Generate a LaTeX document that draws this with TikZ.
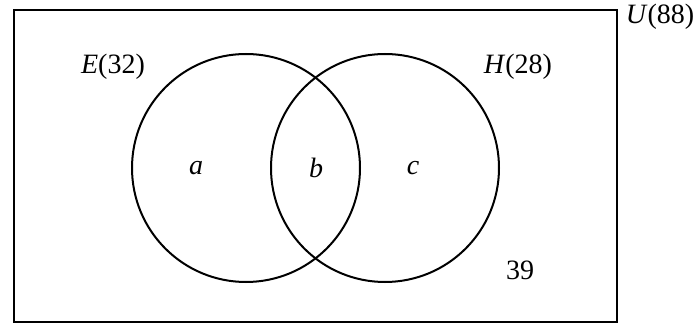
\documentclass[tikz,border=0pt]{standalone}
\usepackage{fontspec}
\setmainfont{Liberation Serif}
\begin{document}
\begin{tikzpicture}[x=1pt,y=-1pt,
  setcircle/.style={draw,circle,line width=2pt,minimum size=228pt,inner sep=0pt},
  lbl/.style={font=\fontsize{28}{32}\selectfont,inner sep=0pt}]
\useasboundingbox (0,0) rectangle (697,326);
\draw[line width=2pt] (14,10) rectangle (617,322);
\node[setcircle] (E) at (246,168) {};
\node[setcircle] (H) at (385,168) {};
\node[lbl] (uL) at (660,17) {\textit{U}(88)};
\node[lbl] (eL) at (113,67) {\textit{E}(32)};
\node[lbl] (hL) at (518,67) {\textit{H}(28)};
\node[lbl] (a) at (196,168) {\textit{a}};
\node[lbl] (b) at (316,168) {\textit{b}};
\node[lbl] (c) at (413,168) {\textit{c}};
\node[lbl] (n) at (520,270) {39};
\end{tikzpicture}
\end{document}
